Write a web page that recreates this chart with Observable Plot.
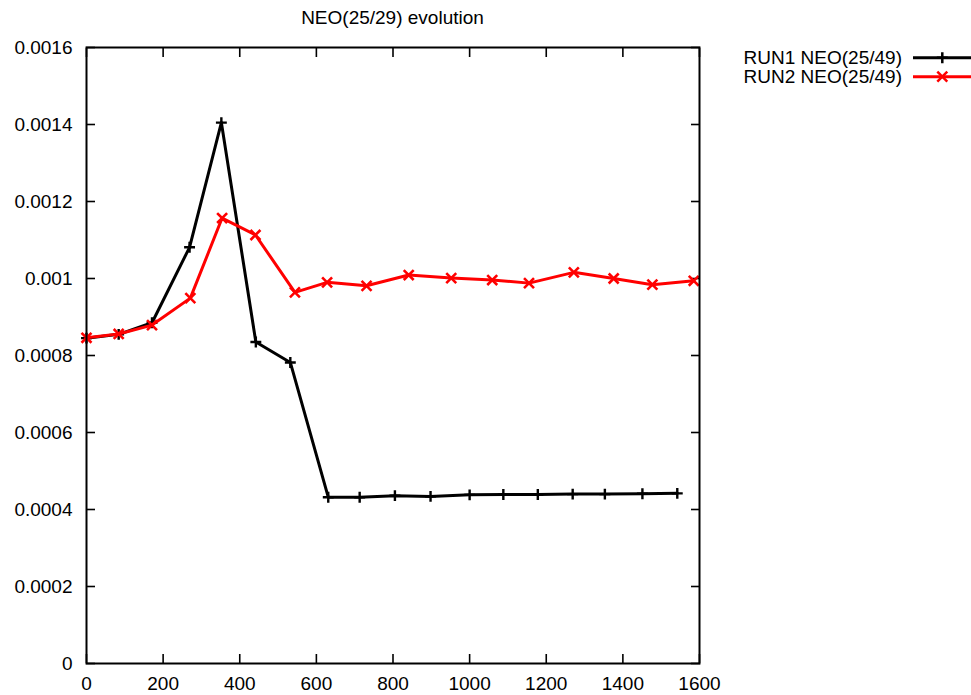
<!DOCTYPE html>
<html>
<head>
<meta charset="utf-8">
<script src="https://cdn.jsdelivr.net/npm/d3@7"></script>
<script src="https://cdn.jsdelivr.net/npm/@observablehq/plot@0.6"></script>
<style>
  html, body { margin: 0; padding: 0; background: #fff; }
  #wrap { position: relative; width: 971px; height: 695px; font-family: "Liberation Sans", Arial, Helvetica, sans-serif; color: #000; }
  #title { position: absolute; left: 0; width: 785px; top: 8px; text-align: center; font-size: 19px; line-height: 20px; }
  #legend { position: absolute; left: 700px; top: 40px; }
  #chart { position: absolute; left: 0; top: 0; }
</style>
</head>
<body>
<div id="wrap">
  <div id="chart"></div>
  <div id="title">NEO(25/29) evolution</div>
  <svg id="legend" width="271" height="50"></svg>
</div>
<script>
// ---- data ----
const run1X = [0, 84, 171, 269, 352, 442, 532, 631, 713, 805, 898, 1000, 1088, 1178, 1269, 1353, 1451, 1542];
const run1Y = [0.000845, 0.000855, 0.000885, 0.001081, 0.001405, 0.000835, 0.000782, 0.000432, 0.000432, 0.000436, 0.000434, 0.000438, 0.000439, 0.000439, 0.000440, 0.000440, 0.000441, 0.000442];

const run2X = [0, 84, 171, 271, 354, 441, 544, 628, 731, 841, 952, 1059, 1155, 1272, 1376, 1477, 1585];
const run2Y = [0.000846, 0.000856, 0.000879, 0.000949, 0.001157, 0.001113, 0.000964, 0.000990, 0.000981, 0.001009, 0.001001, 0.000996, 0.000988, 0.001016, 0.001000, 0.000984, 0.000994];

const seriesNames = ["RUN1 NEO(25/49)", "RUN2 NEO(25/49)"];
const seriesColors = ["#000000", "#ff0000"];
const seriesSymbols = ["plus", "times"];

const xTicks = [0, 200, 400, 600, 800, 1000, 1200, 1400, 1600];
const xLabels = ["0", "200", "400", "600", "800", "1000", "1200", "1400", "1600"];
const yTicks = [0, 0.0002, 0.0004, 0.0006, 0.0008, 0.001, 0.0012, 0.0014, 0.0016];
const yLabels = ["0", "0.0002", "0.0004", "0.0006", "0.0008", "0.001", "0.0012", "0.0014", "0.0016"];

const run1 = run1X.map((x, i) => ({x, y: run1Y[i]}));
const run2 = run2X.map((x, i) => ({x, y: run2Y[i]}));

const TICK = 9;
const blank = () => "";

const chart = Plot.plot({
  width: 971,
  height: 695,
  marginLeft: 86,
  marginRight: 272,
  marginTop: 47,
  marginBottom: 32,
  x: {domain: [0, 1600]},
  y: {domain: [0, 0.0016]},
  style: {fontFamily: '"Liberation Sans", Arial, Helvetica, sans-serif', fontSize: "19px", color: "#000", background: "#fff", overflow: "visible"},
  marks: [
    // inward ticks on all four sides
    Plot.axisX(xTicks, {anchor: "bottom", tickSize: TICK, dy: -TICK, tickFormat: blank, label: null, strokeWidth: 1.6}),
    Plot.axisX(xTicks, {anchor: "top", tickSize: TICK, dy: TICK, tickFormat: blank, label: null, strokeWidth: 1.6}),
    Plot.axisY(yTicks, {anchor: "left", tickSize: TICK, dx: TICK, tickFormat: blank, label: null, strokeWidth: 1.6}),
    Plot.axisY(yTicks, {anchor: "right", tickSize: TICK, dx: -TICK, tickFormat: blank, label: null, strokeWidth: 1.6}),
    // tick labels
    Plot.axisX(xTicks, {anchor: "bottom", tickSize: 0, tickPadding: 13, tickFormat: (d, i) => xLabels[i], label: null}),
    Plot.axisY(yTicks, {anchor: "left", tickSize: 0, tickPadding: 14, tickFormat: (d, i) => yLabels[i], label: null}),
    // series
    Plot.line(run1, {x: "x", y: "y", stroke: seriesColors[0], strokeWidth: 3}),
    Plot.dot(run1, {x: "x", y: "y", symbol: seriesSymbols[0], r: 3.6, stroke: seriesColors[0], strokeWidth: 2.4}),
    Plot.line(run2, {x: "x", y: "y", stroke: seriesColors[1], strokeWidth: 3}),
    Plot.dot(run2, {x: "x", y: "y", symbol: seriesSymbols[1], r: 4.6, stroke: seriesColors[1], strokeWidth: 2.6}),
    Plot.frame({stroke: "#000", strokeWidth: 2})
  ]
});
document.getElementById("chart").appendChild(chart);

// legend (outside the plot frame, top right)
const leg = d3.select("#legend");
const symMap = {plus: d3.symbolPlus, times: d3.symbolTimes};
const rows = seriesNames.map((name, i) => ({name, color: seriesColors[i], symbol: seriesSymbols[i], r: i === 0 ? 3.6 : 4.6}));
rows.forEach((d, i) => {
  const cy = 17.7 + i * 19;
  leg.append("text")
    .attr("x", 202).attr("y", cy)
    .attr("text-anchor", "end").attr("dy", "0.35em")
    .style("font-family", '"Liberation Sans", Arial, Helvetica, sans-serif')
    .style("font-size", "19px")
    .text(d.name);
  leg.append("line")
    .attr("x1", 213).attr("x2", 271).attr("y1", cy).attr("y2", cy)
    .attr("stroke", d.color).attr("stroke-width", 3);
  leg.append("path")
    .attr("transform", `translate(242.3,${cy})`)
    .attr("d", d3.symbol(symMap[d.symbol], d.r * d.r * Math.PI)())
    .attr("fill", "none").attr("stroke", d.color).attr("stroke-width", 2.5);
});
</script>
</body>
</html>
